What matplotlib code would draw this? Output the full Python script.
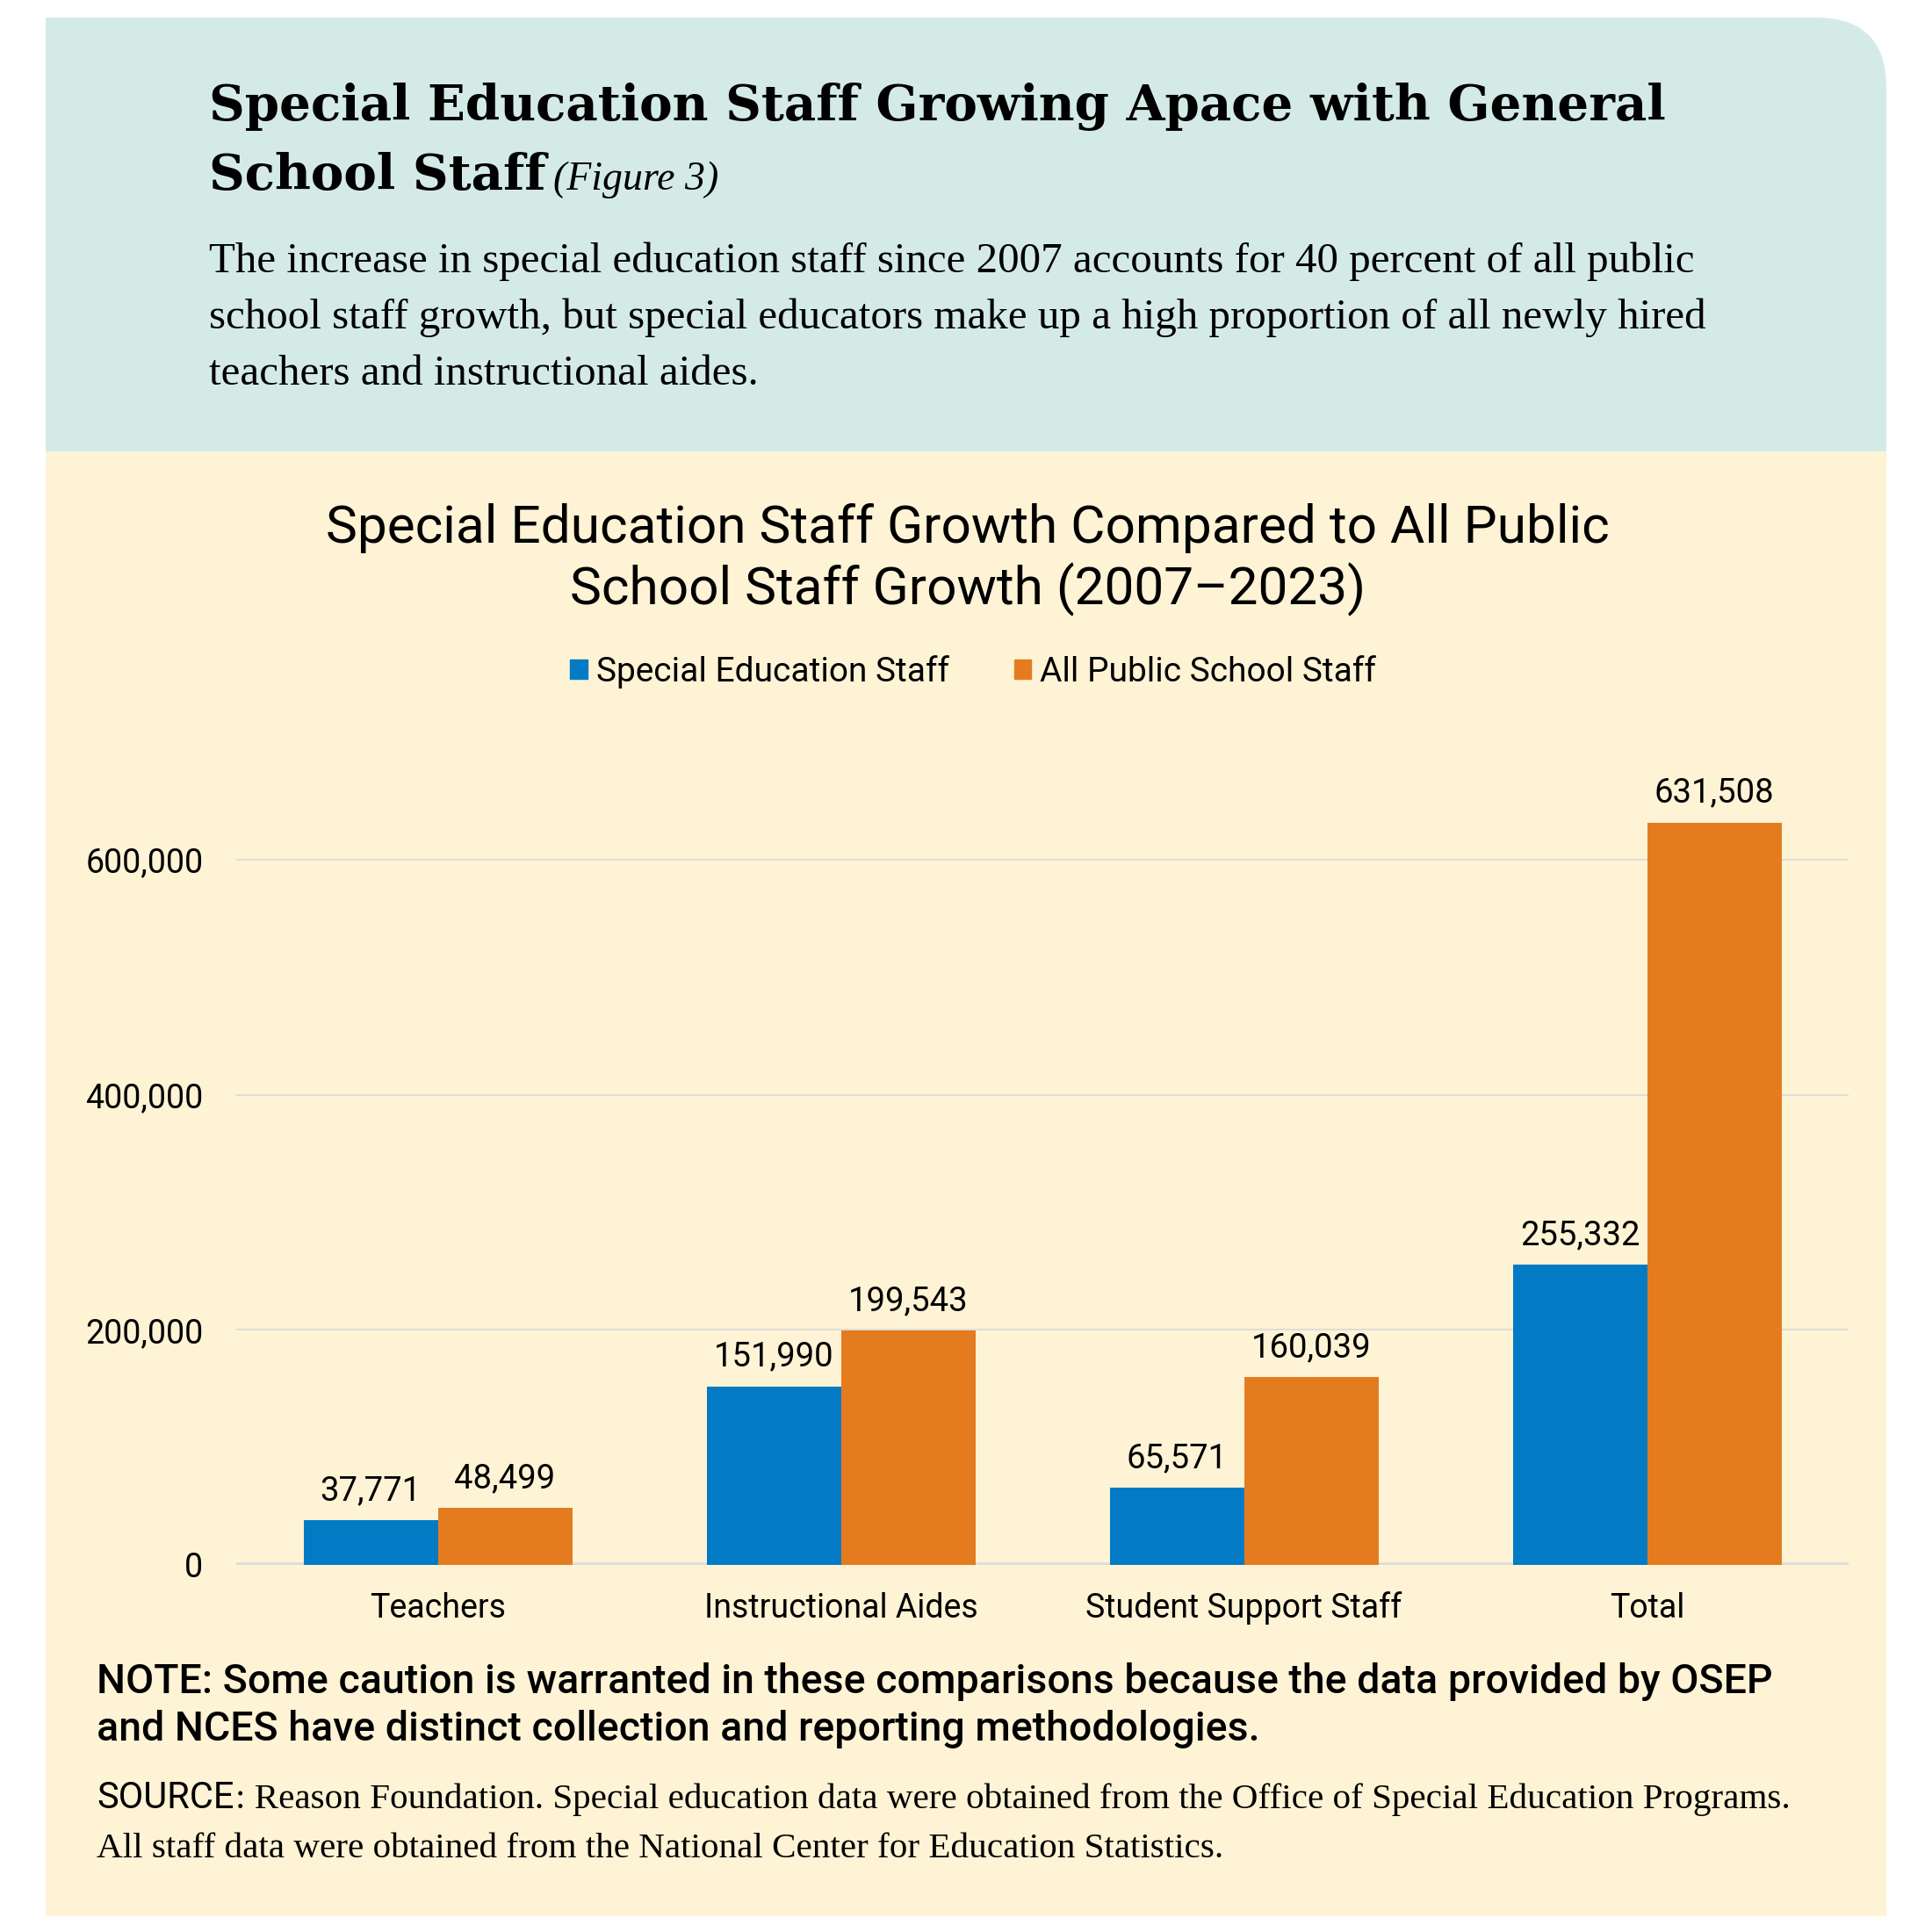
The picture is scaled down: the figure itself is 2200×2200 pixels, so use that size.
import numpy as np
import matplotlib
matplotlib.use("Agg")
import matplotlib.pyplot as plt
from matplotlib.patches import FancyBboxPatch, Rectangle, Patch
from matplotlib.ticker import FuncFormatter

# data
categories = ["Teachers", "Instructional Aides", "Student Support Staff", "Total"]
sped_staff = [37771, 151990, 65571, 255332]
all_staff = [48499, 199543, 160039, 631508]
series_names = ["Special Education Staff", "All Public School Staff"]
y_ticks = [0, 200000, 400000, 600000]

BLUE = "#027BC4"
ORANGE = "#E47C1F"
TEAL = "#D4EAE7"
CREAM = "#FEF3D5"
SANS = ["Roboto", "DejaVu Sans"]
SERIF = ["Liberation Serif", "DejaVu Serif"]

W = H = 2200
fig = plt.figure(figsize=(22, 22), dpi=100)
fig.patch.set_facecolor("white")

# background axes in pixel coords (y downwards)
bg = fig.add_axes([0, 0, 1, 1], zorder=0)
bg.set_xlim(0, W)
bg.set_ylim(H, 0)
bg.axis("off")

left, right, top, mid, bottom = 52, 2148, 20, 514, 2182
r = 80
bg.add_patch(FancyBboxPatch((left, top), right - left, mid - top + 200,
                            boxstyle=f"round,pad=0,rounding_size={r}",
                            fc=TEAL, ec="none"))
bg.add_patch(Rectangle((left, top), 300, mid - top, fc=TEAL, ec="none"))
bg.add_patch(Rectangle((left, mid), right - left, bottom - mid, fc=CREAM, ec="none"))

renderer = fig.canvas.get_renderer()

# header texts
bg.text(238, 137, "Special Education Staff Growing Apace with General",
        family=["DejaVu Serif"], weight="bold", fontsize=40.6, va="baseline")
t = bg.text(238, 216, "School Staff", family=["DejaVu Serif"], weight="bold",
            fontsize=40.6, va="baseline")
bb = t.get_window_extent(renderer)
bg.text(bb.x1 + 8, 216, "(Figure 3)", family=SERIF, style="italic",
        fontsize=33, va="baseline")
body = ["The increase in special education staff since 2007 accounts for 40 percent of all public",
        "school staff growth, but special educators make up a high proportion of all newly hired",
        "teachers and instructional aides."]
for i, line in enumerate(body):
    bg.text(238, 310 + i * 64, line, family=SERIF, fontsize=35.3, va="baseline")

# chart title
bg.text(1102, 618, "Special Education Staff Growth Compared to All Public",
        family=SANS, fontsize=43.5, ha="center", va="baseline")
bg.text(1102, 688, "School Staff Growth (2007\u20132023)",
        family=SANS, fontsize=43.5, ha="center", va="baseline")

# note and source
bg.text(110, 1928, "NOTE: Some caution is warranted in these comparisons because the data provided by OSEP",
        family=SANS, fontsize=33.5, weight="medium", va="baseline")
bg.text(110, 1982, "and NCES have distinct collection and reporting methodologies.",
        family=SANS, fontsize=33.5, weight="medium", va="baseline")
s = bg.text(110, 2059, "SOURCE", family=SANS, fontsize=30, va="baseline")
bb = s.get_window_extent(renderer)
bg.text(bb.x1 + 1, 2059, ": Reason Foundation. Special education data were obtained from the Office of Special Education Programs.",
        family=SERIF, fontsize=29.6, va="baseline")
bg.text(110, 2115, "All staff data were obtained from the National Center for Education Statistics.",
        family=SERIF, fontsize=29.6, va="baseline")

# chart axes: x 269..2105, y(0)=1782, top=845 (700,000)
ax_l, ax_r, ax_b, ax_t = 269, 2105, 1782, 845
ax = fig.add_axes([ax_l / W, 1 - ax_b / H, (ax_r - ax_l) / W, (ax_b - ax_t) / H], zorder=1)
ax.patch.set_alpha(0)

x = np.arange(len(categories))
w = 1 / 3
b1 = ax.bar(x - w / 2, sped_staff, w, color=BLUE, label=series_names[0], zorder=3)
b2 = ax.bar(x + w / 2, all_staff, w, color=ORANGE, label=series_names[1], zorder=3)
for bars, vals in ((b1, sped_staff), (b2, all_staff)):
    for rect, v in zip(bars, vals):
        ax.annotate(f"{v:,}", (rect.get_x() + rect.get_width() / 2, v),
                    xytext=(0, 15), textcoords="offset pixels",
                    ha="center", va="bottom", fontsize=27.5, family=SANS, zorder=4)

ax.set_xlim(-0.5, 3.5)
ax.set_ylim(0, 700000)
ax.set_yticks(y_ticks)
ax.yaxis.set_major_formatter(FuncFormatter(lambda v, p: f"{int(v):,}"))
ax.set_xticks(x)
ax.set_xticklabels(categories)
ax.grid(axis="y", color="#DEDDD8", lw=1.5, zorder=0)
ax.axhline(0, color="#DCDCDC", lw=4, zorder=2)
for sp in ax.spines.values():
    sp.set_visible(False)
ax.tick_params(length=0, labelsize=27)
ax.tick_params(axis="y", pad=27)
ax.tick_params(axis="x", pad=22)
for lab in ax.get_xticklabels() + ax.get_yticklabels():
    lab.set_family(SANS)

handles = [Patch(color=BLUE), Patch(color=ORANGE)]
fig.legend(handles, series_names, loc="center", bbox_to_anchor=(1108 / W, 1 - 765 / H),
           ncol=2, frameon=False, prop={"family": SANS, "size": 28},
           handlelength=0.5, handleheight=0.5, handletextpad=0.26, columnspacing=1.9)

fig.savefig("out.png", dpi=100)
